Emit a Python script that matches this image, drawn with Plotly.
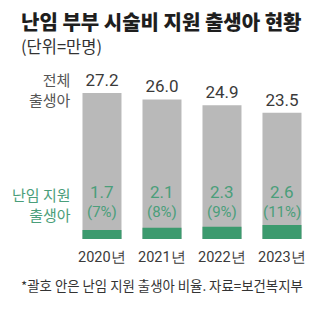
import plotly.graph_objects as go

# 난임 부부 시술비 지원 출생아 현황 (단위: 만명)
years = ["2020년", "2021년", "2022년", "2023년"]
total_births = [27.2, 26.0, 24.9, 23.5]
ivf_births = [1.7, 2.1, 2.3, 2.6]
ivf_share = ["7%", "8%", "9%", "11%"]

W, H = 322, 332
GREEN = "#3c9a6e"
GREEN_TXT = "#4a9e7a"
DARK = "#3a3a3a"
KFONT = "Noto Sans CJK KR"
NFONT = "Roboto, Liberation Sans, sans-serif"

x = list(range(len(years)))

fig = go.Figure()
fig.add_trace(go.Bar(
    x=x, y=total_births, width=0.65,
    marker=dict(color="#b9b9b9", line=dict(width=0)),
    text=[f"{v:.1f}" for v in total_births], textposition="outside",
    textfont=dict(family=NFONT, size=17, color=DARK),
    cliponaxis=False, hoverinfo="skip",
))
fig.add_trace(go.Bar(
    x=x, y=ivf_births, width=0.65,
    marker=dict(color=GREEN, line=dict(width=0)),
    hoverinfo="skip",
))

ann = []
for i, (v, s, yr) in enumerate(zip(ivf_births, ivf_share, years)):
    ann.append(dict(x=i, y=8.75, xref="x", yref="y", text=f"{v:.1f}",
                    showarrow=False, font=dict(family=NFONT, size=17, color=GREEN_TXT)))
    ann.append(dict(x=i, y=5.0, xref="x", yref="y", text=f"({s})",
                    showarrow=False, font=dict(family=NFONT, size=15, color=GREEN_TXT)))
    ann.append(dict(x=i, y=-3.4, xref="x", yref="y", text=yr,
                    showarrow=False, font=dict(family=NFONT, size=14.5, color=DARK)))


def py(px):
    return 1 - px / H


ann += [
    dict(x=19 / W, y=py(21), xref="paper", yref="paper", xanchor="left", yanchor="middle",
         text="난임 부부 시술비 지원 출생아 현황", showarrow=False,
         font=dict(family=KFONT, size=20, color="#1e1e1e", weight=800)),
    dict(x=19 / W, y=py(46), xref="paper", yref="paper", xanchor="left", yanchor="middle",
         text="(단위=만명)", showarrow=False,
         font=dict(family=KFONT, size=16.5, color="#333333")),
    dict(x=73 / W, y=py(89), xref="paper", yref="paper", xanchor="right", yanchor="middle",
         text="전체<br>출생아", align="right", showarrow=False,
         font=dict(family=KFONT, size=15, color="#555555")),
    dict(x=73 / W, y=py(204), xref="paper", yref="paper", xanchor="right", yanchor="middle",
         text="난임 지원<br>출생아", align="right", showarrow=False,
         font=dict(family=KFONT, size=15, color=GREEN_TXT)),
    dict(x=162 / W, y=py(285), xref="paper", yref="paper", xanchor="center", yanchor="middle",
         text="*괄호 안은 난임 지원 출생아 비율. 자료=보건복지부", showarrow=False,
         font=dict(family=KFONT, size=13.4, color="#333333")),
]

fig.update_layout(
    width=W, height=H, margin=dict(l=0, r=0, t=0, b=0),
    paper_bgcolor="white", plot_bgcolor="white",
    barmode="overlay", showlegend=False,
    xaxis=dict(range=[-1.7, 3.667], visible=False, fixedrange=True),
    yaxis=dict(range=[-17.3, 44.5], visible=False, fixedrange=True),
    annotations=ann,
)

fig.write_html("out.html")
